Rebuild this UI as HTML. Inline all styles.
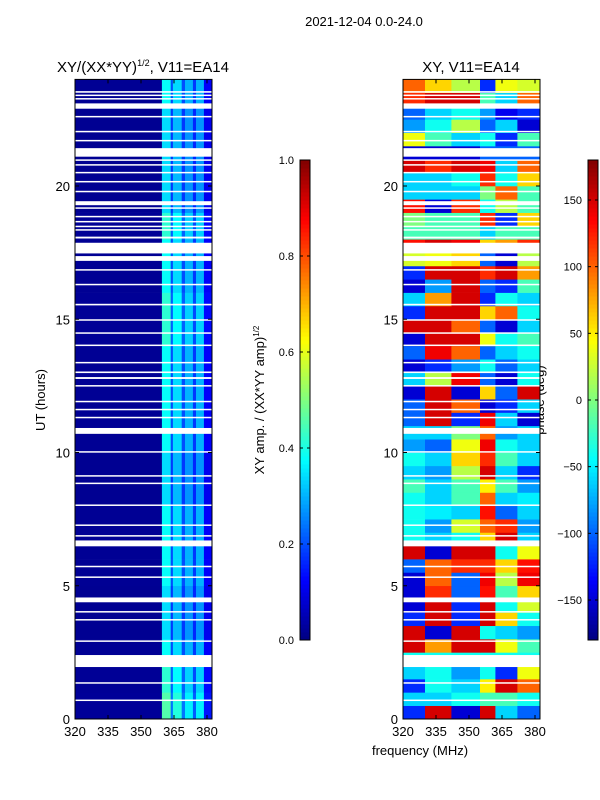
<!DOCTYPE html>
<html><head><meta charset="utf-8"><style>
html,body{margin:0;padding:0;background:#fff;}
svg{display:block;font-family:"Liberation Sans","DejaVu Sans",sans-serif;}
</style></head><body>
<svg id="fig" width="600" height="800" viewBox="0 0 600 800">
<text x="364" y="26" font-size="13" text-anchor="middle">2021-12-04 0.0-24.0</text>
<text x="143" y="72" font-size="15" text-anchor="middle">XY/(XX*YY)<tspan font-size="9" dy="-6">1/2</tspan><tspan dy="6">, V11=EA14</tspan></text>
<text x="471" y="72" font-size="15" text-anchor="middle">XY, V11=EA14</text>
<text transform="translate(45,400) rotate(-90)" font-size="13" text-anchor="middle">UT (hours)</text>
<text transform="translate(264,400) rotate(-90)" font-size="13" text-anchor="middle">XY amp. / (XX*YY amp)<tspan font-size="8" dy="-5">1/2</tspan></text>
<text transform="translate(544,400) rotate(-90)" font-size="13" text-anchor="middle">phase (deg)</text>
<text x="420" y="755" font-size="13" text-anchor="middle">frequency (MHz)</text>
<g id="left"></g>
<g id="right"></g>
<g id="cb1"></g>
<g id="cb2"></g>
</svg>
<script>
// ---- data ----
const xTicks = [320, 335, 350, 365, 380];
const yTicks = [0, 5, 10, 15, 20];
const ampTicks = [0.0, 0.2, 0.4, 0.6, 0.8, 1.0];
const phaseTicks = [-150, -100, -50, 0, 50, 100, 150];
// flagged (blank) time intervals in hours [start, end]
const flagStart = [23.5,23.38,23.25,22.9,22.58,22.02,21.68,21.1,20.95,20.77,20.48,20.14,19.77,19.28,19.15,18.83,18.64,18.46,18.33,18.03,17.47,17.19,16.83,16.28,15.52,14.95,14.46,14.0,13.35,12.98,12.76,12.48,11.9,11.6,11.3,10.7,10.0,9.1,8.82,8.0,7.25,6.85,6.48,5.7,5.3,4.38,4.0,3.7,2.9,1.95,1.33,0.68];
const flagEnd   = [23.56,23.43,23.3,23.1,22.63,22.07,21.73,21.42,21.0,20.82,20.53,20.19,19.82,19.43,19.2,18.88,18.69,18.51,18.38,18.1,17.87,17.37,16.88,16.33,15.58,15.0,14.51,14.05,13.4,13.04,12.83,12.53,11.94,11.64,11.34,10.92,10.05,9.15,8.87,8.05,7.3,6.9,6.7,5.75,5.35,4.56,4.05,3.75,2.95,2.4,1.38,0.73];
// amplitude: frequency band edges (MHz) and values
const ampEdges = [320,359.5,363.5,364.5,368.5,370,373.6,375,378.6,382.3];
const ampVals  = [0.02,0.38,0.2,0.34,0.2,0.3,0.18,0.3,0.12];
// hourly scale factor for amplitude (hour 0..23)
const ampHour = [1.2,1.1,1.0,0.9,0.9,1.0,1.0,1.0,0.9,0.9,1.0,1.0,1.0,1.0,1.1,1.1,1.0,1.0,1.1,0.9,0.9,0.9,0.9,1.0];
// phase: band edges and half-hour rows (row 0 = 0-0.5h)
const phEdges = [320,330,342,355,362,372,382.3];
const phRows = [
[-120,150,-150,150,-60,-100],[-60,-60,-40,-20,-20,-40],[-120,-40,-60,50,150,100],[-60,-40,-80,-40,-120,40],
[-40,-40,-40,-40,-40,-40],[150,80,150,150,40,-20],[150,-150,150,-40,-60,-80],[-120,150,-120,150,60,-40],
[-150,150,-120,150,-40,30],[-150,120,-100,130,-20,60],[-150,100,-100,140,20,140],[-100,100,120,120,60,130],
[150,-150,150,150,-40,40],[-40,-60,-40,60,150,-60],[-40,-80,30,100,120,-80],[-40,-50,-60,130,-100,-60],
[-40,-60,-20,100,-60,-50],[-20,-60,-20,50,-20,-80],[-60,-80,20,150,-60,-120],[-40,-60,60,120,-20,-60],
[-80,-100,40,140,-40,-60],[-60,-60,0,100,-80,-60],[-100,150,-120,140,-60,-150],[-100,150,100,-150,-120,-60],
[-150,150,-150,60,-100,150],[-60,20,140,-100,-150,-40],[-150,-120,-80,-40,-100,-60],[-100,140,100,-100,-60,-40],
[-150,150,150,40,-40,-20],[150,150,100,-100,-150,-60],[-120,150,150,60,100,-40],[-60,80,150,-120,-40,-60],
[-150,-80,150,-100,-120,-20],[-120,150,150,120,150,80],[30,40,60,-100,-150,20],[130,150,140,60,80,120],
[-20,-20,-20,-60,-20,-20],[0,-20,-20,120,-120,60],[130,-150,120,-40,20,-20],[-60,-60,-60,0,100,-20],
[-60,-60,-40,120,-40,60],[150,120,150,140,-60,100],[-150,-150,-150,-100,-100,-100],[40,-20,-60,-40,-120,-20],
[-80,-40,20,-100,-60,-150],[-100,-60,-40,-80,-140,-120],[120,150,150,-20,-60,100],[100,60,20,-120,40,30]
];
// ---- helpers ----
const NS = "http://www.w3.org/2000/svg";
function jet(v){v=Math.max(0,Math.min(1,v));
  const r=Math.max(0,Math.min(1,1.5-Math.abs(4*v-3))),g=Math.max(0,Math.min(1,1.5-Math.abs(4*v-2))),b=Math.max(0,Math.min(1,1.5-Math.abs(4*v-1)));
  return `rgb(${Math.round(r*255)},${Math.round(g*255)},${Math.round(b*255)})`;}
function mk(tag,attrs,parent){const e=document.createElementNS(NS,tag);for(const k in attrs)e.setAttribute(k,attrs[k]);parent.appendChild(e);return e;}
const Y0=719,Y1=79.4;
const yS=h=>Y0-(Y0-Y1)*h/24;
function xS(x0){return f=>x0+(f-320)*2.2;}

function panel(g,x0,fill){
  const X=xS(x0), W=137;
  fill(X);
  for(let i=0;i<flagStart.length;i++){
    const r=mk('rect',{x:x0,y:yS(flagEnd[i]),width:W,height:Math.max(1.5,yS(flagStart[i])-yS(flagEnd[i])),fill:'#fff'},g);
    
    
  }
  mk('rect',{x:x0,y:Y1,width:W,height:Y0-Y1,fill:'none',stroke:'#000','stroke-width':1},g);
  xTicks.forEach(t=>{const x=X(t);
    mk('line',{x1:x,x2:x,y1:Y0,y2:Y0-4,stroke:'#000'},g);mk('line',{x1:x,x2:x,y1:Y1,y2:Y1+4,stroke:'#000'},g);
    const tx=mk('text',{x:x,y:Y0+17,'font-size':13,'text-anchor':'middle'},g);tx.textContent=t;
    
    });
  yTicks.forEach(t=>{const y=yS(t);
    mk('line',{x1:x0,x2:x0+4,y1:y,y2:y,stroke:'#000'},g);mk('line',{x1:x0+W-4,x2:x0+W,y1:y,y2:y,stroke:'#000'},g);
    const tx=mk('text',{x:x0-5,y:y+5,'font-size':13,'text-anchor':'end'},g);tx.textContent=t;
    
    });
}
// left amplitude panel
panel(document.getElementById('left'),75,X=>{
  const g=document.getElementById('left');
  for(let h=0;h<24;h++)for(let b=0;b<ampVals.length;b++){
    const y=yS(h+1),r=mk('rect',{x:X(ampEdges[b]),y:y,width:X(ampEdges[b+1])-X(ampEdges[b])+0.3,height:yS(h)-y+0.3,fill:jet(ampVals[b]*ampHour[h])},g);
    
    
  }});
// right phase panel
panel(document.getElementById('right'),403,X=>{
  const g=document.getElementById('right');
  phRows.forEach((row,i)=>row.forEach((v,b)=>{
    const y=yS((i+1)/2),r=mk('rect',{x:X(phEdges[b]),y:y,width:X(phEdges[b+1])-X(phEdges[b])+0.3,height:yS(i/2)-y+0.3,fill:jet((v+180)/360)},g);
    
    
  }));});
// colorbars
function colorbar(g,x,ticks,lo,hi,fmt){
  const top=160,bot=640,N=120;
  for(let i=0;i<N;i++){mk('rect',{x:x,y:bot-(i+1)*(bot-top)/N,width:10,height:(bot-top)/N+0.5,fill:jet((i+0.5)/N)},g);}
  mk('rect',{x:x,y:top,width:10,height:bot-top,fill:'none',stroke:'#000'},g);
  ticks.forEach(t=>{const y=bot-(t-lo)/(hi-lo)*(bot-top);
    mk('line',{x1:x,x2:x+3,y1:y,y2:y,stroke:'#000'},g);mk('line',{x1:x+7,x2:x+10,y1:y,y2:y,stroke:'#000'},g);
    const tx=mk('text',{x:x-6,y:y+4,'font-size':11,'text-anchor':'end'},g);tx.textContent=fmt(t);
    
    });
}
colorbar(document.getElementById('cb1'),300,ampTicks,0,1,t=>t.toFixed(1));
colorbar(document.getElementById('cb2'),588,phaseTicks,-180,180,t=>t<0?'\u2212'+(-t):String(t));
</script>
</body></html>
